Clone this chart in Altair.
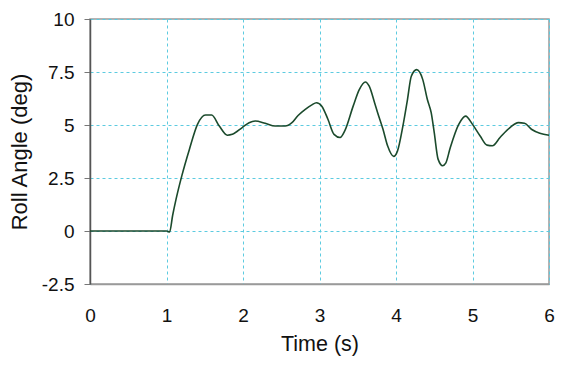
import altair as alt
import pandas as pd

time_s = [0.0, 0.5, 1.0, 1.04, 1.08, 1.125, 1.2, 1.3, 1.405, 1.51, 1.59, 1.69, 1.795, 1.86,
          1.99, 2.08, 2.16, 2.29, 2.42, 2.55, 2.64, 2.72, 2.81, 2.90, 2.96, 3.03, 3.11,
          3.19, 3.27, 3.33, 3.44, 3.52, 3.60, 3.65, 3.72, 3.76, 3.83, 3.89, 3.97, 4.02,
          4.09, 4.15, 4.20, 4.27, 4.35, 4.41, 4.46, 4.50, 4.55, 4.61, 4.65, 4.71, 4.82,
          4.91, 5.0, 5.10, 5.19, 5.26, 5.36, 5.49, 5.60, 5.68, 5.77, 5.88, 6.0]
roll_deg = [0.0, 0.0, 0.0, -0.05, 0.73, 1.5, 2.6, 3.86, 5.03, 5.47, 5.47, 4.95, 4.52, 4.56,
            4.88, 5.11, 5.19, 5.08, 4.95, 4.95, 5.11, 5.45, 5.73, 5.95, 6.05, 5.89, 5.27,
            4.56, 4.41, 4.72, 5.89, 6.67, 7.03, 6.83, 6.05, 5.58, 4.80, 4.02, 3.52, 3.78,
            4.95, 6.20, 7.30, 7.61, 7.14, 6.20, 5.58, 4.64, 3.39, 3.08, 3.20, 3.94, 5.03,
            5.42, 5.03, 4.48, 4.05, 4.02, 4.41, 4.88, 5.11, 5.08, 4.80, 4.61, 4.52]

x_ticks = [0, 1, 2, 3, 4, 5, 6]
y_ticks = [-2.5, 0, 2.5, 5, 7.5, 10]

df = pd.DataFrame({"t": time_s, "roll": roll_deg})

FONT = "Liberation Sans"

chart = alt.Chart(df).mark_line(
    color="#1b4a2c", strokeWidth=1.6, interpolate="monotone"
).encode(
    x=alt.X("t:Q", title="Time (s)",
            scale=alt.Scale(domain=[0, 6], nice=False, zero=False),
            axis=alt.Axis(values=x_ticks, ticks=False, tickSize=0, labelPadding=22,
                          labelFontSize=19, titleFontSize=21.5,
                          domainColor="#9a9a9a", domainWidth=1.5,
                          gridColor="#5ccbe0", gridDash=[3, 3], gridWidth=1,
                          titlePadding=8, labelFlush=False, labelExpr="'' + datum.value")),
    y=alt.Y("roll:Q", title="Roll Angle (deg)",
            scale=alt.Scale(domain=[-2.5, 10], nice=False, zero=False),
            axis=alt.Axis(values=y_ticks, ticks=True, tickSize=6, tickColor="#777777",
                          labelFontSize=19, titleFontSize=22,
                          labelPadding=10, domainColor="#555555", domainWidth=1.5,
                          gridColor="#5ccbe0", gridDash=[3, 3], gridWidth=1,
                          titlePadding=10, labelFlush=False, labelExpr="'' + datum.value")),
).properties(
    width=459, height=265,
    autosize=alt.AutoSizeParams(type="none"),
    padding={"left": 82, "top": 11, "right": 6, "bottom": 72},
).configure_view(
    stroke="#9a9a9a", strokeWidth=1.5
).configure_axis(
    labelFont=FONT, titleFont=FONT,
    labelColor="#111111", titleColor="#111111", titleFontWeight="normal",
)

chart.save("out.html", embed_options={"renderer": "svg", "actions": False})
